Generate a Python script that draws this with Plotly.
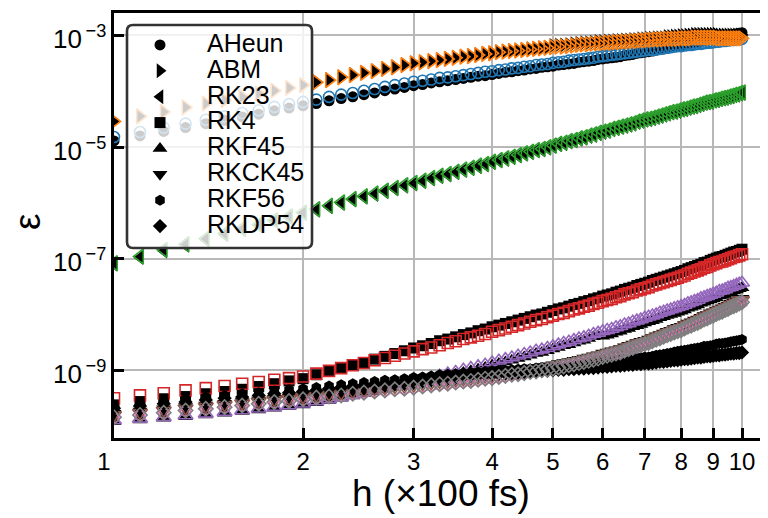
import plotly.graph_objects as go

# step sizes h (x100 fs)
H = [1.0, 1.1, 1.2, 1.3, 1.4, 1.5, 1.6, 1.7, 1.8, 1.9,
     2.0, 2.1, 2.2, 2.3, 2.4, 2.5, 2.6, 2.7, 2.8, 2.9,
     3.0, 3.1, 3.2, 3.3, 3.4, 3.5, 3.6, 3.7, 3.8, 3.9,
     4.0, 4.1, 4.2, 4.3, 4.4, 4.5, 4.6, 4.7, 4.8, 4.9,
     5.0, 5.1, 5.2, 5.3, 5.4, 5.5, 5.6, 5.7, 5.8, 5.9,
     6.0, 6.1, 6.2, 6.3, 6.4, 6.5, 6.6, 6.7, 6.8, 6.9,
     7.0, 7.1, 7.2, 7.3, 7.4, 7.5, 7.6, 7.7, 7.8, 7.9,
     8.0, 8.1, 8.2, 8.3, 8.4, 8.5, 8.6, 8.7, 8.8, 8.9,
     9.0, 9.1, 9.2, 9.3, 9.4, 9.5, 9.6, 9.7, 9.8, 9.9,
     10.0]

METHODS = ["AHeun", "ABM", "RK23", "RK4", "RKF45", "RKCK45", "RKF56", "RKDP54"]

# errors, stored as log10(epsilon)
# black filled markers
AHEUN_BLACK = [-4.89,-4.80,-4.72,-4.65,-4.58,-4.52,-4.46,-4.41,-4.35,-4.30,
 -4.26,-4.22,-4.17,-4.13,-4.10,-4.06,-4.03,-3.99,-3.96,-3.93,
 -3.90,-3.88,-3.85,-3.83,-3.81,-3.79,-3.77,-3.75,-3.73,-3.72,
 -3.70,-3.68,-3.66,-3.65,-3.63,-3.62,-3.60,-3.59,-3.57,-3.56,
 -3.55,-3.53,-3.52,-3.51,-3.50,-3.48,-3.47,-3.46,-3.45,-3.43,
 -3.42,-3.41,-3.40,-3.39,-3.38,-3.36,-3.35,-3.34,-3.32,-3.31,
 -3.30,-3.29,-3.28,-3.26,-3.25,-3.24,-3.23,-3.21,-3.20,-3.19,
 -3.18,-3.16,-3.15,-3.14,-3.13,-3.12,-3.10,-3.09,-3.08,-3.07,
 -3.06,-3.04,-3.03,-3.02,-3.01,-3.00,-2.99,-2.98,-2.97,-2.96,
 -2.95]
ABM_BLACK = [-4.53,-4.44,-4.36,-4.28,-4.21,-4.15,-4.09,-4.03,-3.98,-3.93,
 -3.88,-3.83,-3.79,-3.74,-3.70,-3.66,-3.63,-3.59,-3.56,-3.52,
 -3.49,-3.47,-3.45,-3.43,-3.41,-3.39,-3.37,-3.36,-3.34,-3.32,
 -3.31,-3.29,-3.28,-3.27,-3.26,-3.25,-3.24,-3.23,-3.22,-3.21,
 -3.18,-3.17,-3.17,-3.16,-3.15,-3.14,-3.13,-3.13,-3.12,-3.11,
 -3.11,-3.10,-3.10,-3.09,-3.09,-3.08,-3.08,-3.07,-3.07,-3.06,
 -3.06,-3.05,-3.05,-3.04,-3.04,-3.04,-3.02,-3.02,-3.01,-3.01,
 -3.00,-3.00,-2.99,-2.99,-2.98,-2.98,-2.98,-2.98,-2.98,-2.98,
 -2.98,-2.98,-2.99,-2.99,-2.99,-2.99,-2.99,-2.99,-2.99,-2.99,
 -2.99]
RK23_BLACK = [-7.10,-6.98,-6.86,-6.76,-6.66,-6.57,-6.48,-6.41,-6.33,-6.26,
 -6.19,-6.13,-6.07,-6.01,-5.95,-5.90,-5.85,-5.80,-5.75,-5.70,
 -5.66,-5.62,-5.57,-5.53,-5.50,-5.46,-5.42,-5.39,-5.35,-5.32,
 -5.28,-5.25,-5.22,-5.19,-5.16,-5.13,-5.10,-5.07,-5.05,-5.02,
 -4.99,-4.96,-4.94,-4.91,-4.89,-4.86,-4.84,-4.81,-4.79,-4.76,
 -4.74,-4.72,-4.69,-4.67,-4.65,-4.63,-4.61,-4.59,-4.56,-4.54,
 -4.52,-4.51,-4.49,-4.47,-4.45,-4.43,-4.41,-4.39,-4.38,-4.36,
 -4.34,-4.33,-4.31,-4.29,-4.28,-4.26,-4.24,-4.22,-4.21,-4.20,
 -4.18,-4.17,-4.15,-4.14,-4.13,-4.11,-4.10,-4.08,-4.07,-4.05,
 -4.04]
RK4_BLACK = [-9.62,-9.56,-9.51,-9.47,-9.42,-9.38,-9.34,-9.29,-9.24,-9.19,
 -9.15,-9.08,-9.02,-8.96,-8.91,-8.86,-8.80,-8.75,-8.70,-8.65,
 -8.60,-8.56,-8.52,-8.47,-8.44,-8.40,-8.36,-8.33,-8.29,-8.26,
 -8.22,-8.19,-8.16,-8.13,-8.10,-8.07,-8.04,-8.01,-7.99,-7.96,
 -7.93,-7.90,-7.88,-7.85,-7.82,-7.80,-7.77,-7.75,-7.72,-7.70,
 -7.67,-7.65,-7.63,-7.60,-7.58,-7.55,-7.53,-7.51,-7.48,-7.46,
 -7.44,-7.42,-7.39,-7.37,-7.35,-7.33,-7.31,-7.29,-7.27,-7.25,
 -7.23,-7.21,-7.18,-7.16,-7.14,-7.12,-7.10,-7.07,-7.06,-7.03,
 -7.01,-6.99,-6.97,-6.96,-6.94,-6.92,-6.90,-6.88,-6.87,-6.85,
 -6.83]
RKF45_BLACK = [-9.92,-9.89,-9.86,-9.83,-9.80,-9.77,-9.74,-9.71,-9.68,-9.65,
 -9.62,-9.58,-9.54,-9.50,-9.46,-9.42,-9.38,-9.34,-9.30,-9.27,
 -9.26,-9.22,-9.19,-9.15,-9.11,-9.08,-9.04,-9.01,-8.98,-8.95,
 -8.91,-8.88,-8.85,-8.82,-8.79,-8.76,-8.73,-8.70,-8.68,-8.65,
 -8.62,-8.59,-8.56,-8.54,-8.51,-8.48,-8.46,-8.43,-8.40,-8.38,
 -8.39,-8.37,-8.35,-8.32,-8.30,-8.27,-8.25,-8.22,-8.20,-8.18,
 -8.15,-8.13,-8.11,-8.09,-8.06,-8.04,-8.02,-8.00,-7.98,-7.96,
 -7.94,-7.92,-7.89,-7.87,-7.85,-7.83,-7.80,-7.78,-7.76,-7.74,
 -7.72,-7.70,-7.67,-7.66,-7.64,-7.61,-7.60,-7.58,-7.56,-7.54,
 -7.52]
RKCK45_BLACK = [-9.77,-9.73,-9.69,-9.65,-9.62,-9.59,-9.56,-9.53,-9.50,-9.48,
 -9.45,-9.42,-9.40,-9.38,-9.35,-9.33,-9.31,-9.29,-9.27,-9.26,
 -9.24,-9.22,-9.20,-9.18,-9.17,-9.15,-9.13,-9.12,-9.10,-9.08,
 -9.07,-9.05,-9.03,-9.01,-9.00,-8.98,-8.96,-8.95,-8.93,-8.92,
 -8.90,-8.88,-8.86,-8.84,-8.82,-8.80,-8.78,-8.76,-8.74,-8.72,
 -8.69,-8.67,-8.65,-8.63,-8.61,-8.58,-8.55,-8.53,-8.50,-8.48,
 -8.46,-8.44,-8.41,-8.38,-8.36,-8.33,-8.30,-8.28,-8.25,-8.23,
 -8.21,-8.18,-8.15,-8.13,-8.10,-8.08,-8.05,-8.02,-8.00,-7.97,
 -7.95,-7.92,-7.90,-7.88,-7.85,-7.83,-7.80,-7.78,-7.76,-7.73,
 -7.71]
RKF56_BLACK = [-9.62,-9.58,-9.54,-9.51,-9.48,-9.45,-9.42,-9.40,-9.37,-9.35,
 -9.33,-9.31,-9.28,-9.26,-9.24,-9.22,-9.20,-9.18,-9.17,-9.15,
 -9.13,-9.12,-9.10,-9.08,-9.07,-9.06,-9.05,-9.04,-9.03,-9.02,
 -9.01,-9.00,-9.00,-8.99,-8.98,-8.97,-8.97,-8.96,-8.95,-8.95,
 -8.94,-8.93,-8.93,-8.92,-8.91,-8.91,-8.90,-8.89,-8.88,-8.87,
 -8.86,-8.85,-8.84,-8.83,-8.82,-8.81,-8.80,-8.79,-8.78,-8.77,
 -8.76,-8.76,-8.75,-8.73,-8.72,-8.71,-8.70,-8.69,-8.67,-8.66,
 -8.65,-8.64,-8.63,-8.62,-8.61,-8.60,-8.59,-8.57,-8.57,-8.56,
 -8.55,-8.53,-8.52,-8.52,-8.51,-8.50,-8.49,-8.48,-8.47,-8.46,
 -8.45]
RKDP54_BLACK = [-9.68,-9.64,-9.60,-9.57,-9.53,-9.50,-9.48,-9.45,-9.42,-9.40,
 -9.38,-9.36,-9.33,-9.31,-9.29,-9.27,-9.25,-9.23,-9.22,-9.20,
 -9.18,-9.17,-9.15,-9.13,-9.12,-9.11,-9.10,-9.09,-9.08,-9.07,
 -9.07,-9.06,-9.05,-9.05,-9.04,-9.03,-9.03,-9.02,-9.01,-9.01,
 -9.00,-8.99,-8.99,-8.98,-8.98,-8.97,-8.97,-8.96,-8.96,-8.95,
 -8.94,-8.94,-8.93,-8.92,-8.92,-8.91,-8.90,-8.90,-8.89,-8.89,
 -8.88,-8.88,-8.87,-8.86,-8.85,-8.85,-8.84,-8.83,-8.82,-8.82,
 -8.81,-8.80,-8.80,-8.79,-8.78,-8.77,-8.77,-8.76,-8.75,-8.75,
 -8.74,-8.73,-8.73,-8.72,-8.72,-8.71,-8.70,-8.70,-8.69,-8.69,
 -8.68]

# coloured open markers
AHEUN_OPEN = [-4.82,-4.73,-4.65,-4.58,-4.51,-4.45,-4.39,-4.34,-4.28,-4.23,
 -4.19,-4.15,-4.10,-4.06,-4.03,-3.99,-3.96,-3.92,-3.89,-3.86,
 -3.83,-3.81,-3.79,-3.76,-3.75,-3.73,-3.71,-3.69,-3.67,-3.65,
 -3.64,-3.62,-3.61,-3.59,-3.58,-3.56,-3.55,-3.53,-3.52,-3.51,
 -3.49,-3.48,-3.47,-3.45,-3.44,-3.43,-3.42,-3.41,-3.40,-3.38,
 -3.37,-3.36,-3.35,-3.34,-3.33,-3.32,-3.31,-3.30,-3.29,-3.28,
 -3.27,-3.26,-3.26,-3.25,-3.24,-3.23,-3.22,-3.21,-3.20,-3.19,
 -3.19,-3.18,-3.17,-3.17,-3.16,-3.15,-3.15,-3.14,-3.13,-3.13,
 -3.12,-3.11,-3.11,-3.10,-3.10,-3.09,-3.08,-3.08,-3.07,-3.07,
 -3.06]
ABM_OPEN = [-4.54,-4.45,-4.37,-4.29,-4.22,-4.16,-4.10,-4.04,-3.99,-3.94,
 -3.89,-3.84,-3.80,-3.75,-3.71,-3.67,-3.64,-3.60,-3.57,-3.53,
 -3.50,-3.48,-3.46,-3.44,-3.42,-3.40,-3.38,-3.37,-3.35,-3.33,
 -3.32,-3.30,-3.29,-3.28,-3.27,-3.26,-3.25,-3.24,-3.23,-3.22,
 -3.21,-3.20,-3.20,-3.19,-3.18,-3.17,-3.16,-3.16,-3.15,-3.14,
 -3.14,-3.13,-3.13,-3.12,-3.12,-3.11,-3.11,-3.10,-3.10,-3.09,
 -3.09,-3.08,-3.08,-3.07,-3.07,-3.07,-3.06,-3.06,-3.06,-3.06,
 -3.05,-3.05,-3.05,-3.05,-3.04,-3.04,-3.04,-3.04,-3.04,-3.04,
 -3.04,-3.04,-3.05,-3.05,-3.05,-3.05,-3.05,-3.05,-3.05,-3.05,
 -3.05]
RK23_OPEN = [-7.08,-6.96,-6.84,-6.74,-6.64,-6.55,-6.46,-6.39,-6.31,-6.24,
 -6.17,-6.11,-6.05,-5.99,-5.93,-5.88,-5.83,-5.78,-5.73,-5.68,
 -5.64,-5.60,-5.55,-5.51,-5.48,-5.44,-5.40,-5.37,-5.33,-5.30,
 -5.26,-5.23,-5.20,-5.17,-5.14,-5.11,-5.08,-5.05,-5.03,-5.00,
 -4.97,-4.94,-4.92,-4.89,-4.87,-4.84,-4.82,-4.79,-4.77,-4.74,
 -4.72,-4.70,-4.67,-4.65,-4.63,-4.61,-4.59,-4.57,-4.54,-4.52,
 -4.50,-4.49,-4.47,-4.45,-4.43,-4.41,-4.39,-4.37,-4.36,-4.34,
 -4.32,-4.31,-4.29,-4.27,-4.26,-4.24,-4.22,-4.20,-4.19,-4.18,
 -4.16,-4.15,-4.13,-4.12,-4.11,-4.09,-4.08,-4.06,-4.05,-4.03,
 -4.02]
RK4_OPEN = [-9.50,-9.45,-9.41,-9.36,-9.32,-9.28,-9.24,-9.21,-9.17,-9.14,
 -9.11,-9.06,-9.01,-8.96,-8.91,-8.87,-8.82,-8.78,-8.74,-8.70,
 -8.66,-8.62,-8.59,-8.55,-8.51,-8.48,-8.44,-8.41,-8.38,-8.35,
 -8.31,-8.28,-8.25,-8.22,-8.19,-8.16,-8.13,-8.10,-8.08,-8.05,
 -8.02,-7.99,-7.97,-7.94,-7.91,-7.89,-7.86,-7.84,-7.81,-7.79,
 -7.76,-7.74,-7.72,-7.69,-7.67,-7.64,-7.62,-7.60,-7.57,-7.55,
 -7.53,-7.51,-7.48,-7.46,-7.44,-7.42,-7.40,-7.38,-7.36,-7.34,
 -7.32,-7.30,-7.27,-7.25,-7.23,-7.21,-7.19,-7.16,-7.15,-7.12,
 -7.10,-7.08,-7.06,-7.05,-7.03,-7.01,-6.99,-6.97,-6.96,-6.94,
 -6.92]
RKF45_OPEN = [-9.90,-9.87,-9.84,-9.81,-9.78,-9.75,-9.72,-9.69,-9.66,-9.63,
 -9.60,-9.56,-9.52,-9.48,-9.44,-9.40,-9.36,-9.32,-9.28,-9.25,
 -9.21,-9.17,-9.14,-9.10,-9.06,-9.03,-8.99,-8.96,-8.93,-8.90,
 -8.86,-8.83,-8.80,-8.77,-8.74,-8.71,-8.68,-8.65,-8.63,-8.60,
 -8.57,-8.54,-8.51,-8.49,-8.46,-8.43,-8.41,-8.38,-8.35,-8.33,
 -8.30,-8.28,-8.26,-8.23,-8.21,-8.18,-8.16,-8.13,-8.11,-8.09,
 -8.06,-8.04,-8.02,-8.00,-7.97,-7.95,-7.93,-7.91,-7.89,-7.87,
 -7.85,-7.83,-7.80,-7.78,-7.76,-7.74,-7.71,-7.69,-7.67,-7.65,
 -7.63,-7.61,-7.58,-7.57,-7.55,-7.52,-7.51,-7.49,-7.47,-7.45,
 -7.43]
RKCK45_OPEN = [-9.80,-9.76,-9.72,-9.68,-9.65,-9.62,-9.59,-9.56,-9.53,-9.51,
 -9.48,-9.45,-9.43,-9.41,-9.38,-9.36,-9.34,-9.32,-9.30,-9.29,
 -9.27,-9.25,-9.23,-9.21,-9.20,-9.18,-9.16,-9.15,-9.13,-9.11,
 -9.10,-9.08,-9.06,-9.04,-9.03,-9.01,-8.99,-8.98,-8.96,-8.95,
 -8.93,-8.91,-8.89,-8.87,-8.85,-8.83,-8.81,-8.79,-8.77,-8.75,
 -8.72,-8.70,-8.68,-8.66,-8.64,-8.61,-8.58,-8.56,-8.53,-8.51,
 -8.49,-8.47,-8.44,-8.41,-8.39,-8.36,-8.33,-8.31,-8.28,-8.26,
 -8.24,-8.21,-8.18,-8.16,-8.13,-8.11,-8.08,-8.05,-8.03,-8.00,
 -7.98,-7.95,-7.93,-7.91,-7.88,-7.86,-7.83,-7.81,-7.79,-7.76,
 -7.74]
RKF56_OPEN = [-9.85,-9.81,-9.77,-9.73,-9.70,-9.67,-9.64,-9.61,-9.58,-9.56,
 -9.53,-9.50,-9.48,-9.46,-9.43,-9.41,-9.39,-9.37,-9.35,-9.34,
 -9.32,-9.30,-9.28,-9.26,-9.25,-9.23,-9.21,-9.20,-9.18,-9.16,
 -9.15,-9.13,-9.11,-9.09,-9.08,-9.06,-9.04,-9.03,-9.01,-9.00,
 -8.98,-8.96,-8.94,-8.92,-8.90,-8.88,-8.86,-8.84,-8.82,-8.80,
 -8.77,-8.75,-8.73,-8.71,-8.69,-8.66,-8.63,-8.61,-8.58,-8.56,
 -8.54,-8.52,-8.49,-8.46,-8.44,-8.41,-8.38,-8.36,-8.33,-8.31,
 -8.29,-8.26,-8.23,-8.21,-8.18,-8.16,-8.13,-8.10,-8.08,-8.05,
 -8.03,-8.00,-7.98,-7.96,-7.93,-7.91,-7.88,-7.86,-7.84,-7.81,
 -7.79]
RKDP54_OPEN = [-9.84,-9.80,-9.76,-9.72,-9.69,-9.66,-9.63,-9.60,-9.57,-9.55,
 -9.52,-9.49,-9.47,-9.45,-9.42,-9.40,-9.38,-9.36,-9.34,-9.33,
 -9.31,-9.29,-9.27,-9.25,-9.24,-9.22,-9.20,-9.19,-9.17,-9.15,
 -9.14,-9.12,-9.10,-9.08,-9.07,-9.05,-9.03,-9.02,-9.00,-8.99,
 -8.97,-8.95,-8.93,-8.91,-8.89,-8.87,-8.85,-8.83,-8.81,-8.79,
 -8.76,-8.74,-8.72,-8.70,-8.68,-8.65,-8.62,-8.60,-8.57,-8.55,
 -8.53,-8.51,-8.48,-8.45,-8.43,-8.40,-8.37,-8.35,-8.32,-8.30,
 -8.28,-8.25,-8.22,-8.20,-8.17,-8.15,-8.12,-8.09,-8.07,-8.04,
 -8.02,-7.99,-7.97,-7.95,-7.92,-7.90,-7.87,-7.85,-7.83,-7.80,
 -7.78]

BLACK_SERIES = [AHEUN_BLACK, ABM_BLACK, RK23_BLACK, RK4_BLACK,
                RKF45_BLACK, RKCK45_BLACK, RKF56_BLACK, RKDP54_BLACK]
OPEN_SERIES = [AHEUN_OPEN, ABM_OPEN, RK23_OPEN, RK4_OPEN,
               RKF45_OPEN, RKCK45_OPEN, RKF56_OPEN, RKDP54_OPEN]

X_TICKS = [1, 2, 3, 4, 5, 6, 7, 8, 9, 10]
X_TICKTEXT = ["1\u00a0\u00a0\u00a0", "2", "3", "4", "5", "6", "7", "8", "9", "10"]
Y_TICK_EXP = [-9, -7, -5, -3]
Y_TICKTEXT = ["10<sup>\u2009\u2212%d</sup>" % (-k) for k in Y_TICK_EXP]

COLORS = ["#1f77b4", "#ff7f0e", "#2ca02c", "#d62728",
          "#9467bd", "#8c564b", "#e377c2", "#7f7f7f"]
SYMBOLS = ["circle", "triangle-right", "triangle-left", "square",
           "triangle-up", "triangle-down", "hexagon", "diamond"]
SIZES = [11, 13, 13, 11, 13, 13, 11, 11]

FONT = "Liberation Sans, Arial, sans-serif"
OFF = 8  # page body margin in the browser
W, HGT = 768, 518
L, R, T, B = 106, 0, 5, 88
PW, PH = W - L - R, HGT - T - B


def px_x(p):
    return (p - OFF - L) / PW


def px_y(p):
    return 1 - (p - OFF - T) / PH


fig = go.Figure()
for name, sym, col, sz, blk, opn in zip(METHODS, SYMBOLS, COLORS, SIZES,
                                        BLACK_SERIES, OPEN_SERIES):
    fig.add_trace(go.Scatter(
        x=H, y=[10 ** v for v in blk], mode="markers",
        name='<span style="font-size:25px">%s</span>' % name,
        marker=dict(symbol=sym, size=sz, color="black", line=dict(width=0)),
        showlegend=True))
    fig.add_trace(go.Scatter(
        x=H, y=[10 ** v for v in opn], mode="markers", showlegend=False,
        marker=dict(symbol=sym + "-open", size=sz, color=col,
                    line=dict(width=1.6, color=col))))

# rounded semi-transparent legend frame
x0, x1 = px_x(127), px_x(312)
y1, y0 = px_y(25), px_y(248)
rx, ry = 6 / PW, 6 / PH
path = (f"M {x0+rx},{y1} L {x1-rx},{y1} Q {x1},{y1} {x1},{y1-ry} "
        f"L {x1},{y0+ry} Q {x1},{y0} {x1-rx},{y0} L {x0+rx},{y0} "
        f"Q {x0},{y0} {x0},{y0+ry} L {x0},{y1-ry} Q {x0},{y1} {x0+rx},{y1} Z")
fig.add_shape(type="path", path=path, xref="paper", yref="paper",
              fillcolor="rgba(255,255,255,0.8)",
              line=dict(color="#333333", width=2.6), layer="above")

# y tick labels, placed on the log axis at each tick exponent
for k, txt in zip(Y_TICK_EXP, Y_TICKTEXT):
    fig.add_annotation(x=px_x(108), xref="paper", xanchor="right",
                       y=k, yref="y", yanchor="middle", yshift=-2,
                       text=txt, showarrow=False,
                       font=dict(size=26, family=FONT, color="black"))

# axis labels
fig.add_annotation(x=px_x(28), xref="paper", xanchor="center",
                   y=px_y(222), yref="paper", yanchor="middle",
                   text="ε", textangle=-90, showarrow=False,
                   font=dict(size=37, family=FONT, color="black"))
fig.add_annotation(x=px_x(441), xref="paper", xanchor="center",
                   y=px_y(493), yref="paper", yanchor="middle",
                   text="h (×100 fs)", showarrow=False,
                   font=dict(size=37, family=FONT, color="black"))

fig.update_layout(
    width=W, height=HGT,
    margin=dict(l=L, r=R, t=T, b=B, pad=0, autoexpand=False),
    paper_bgcolor="white", plot_bgcolor="white",
    font=dict(family=FONT, color="black", size=24),
    showlegend=True,
    legend=dict(x=px_x(113), y=px_y(27), xanchor="left", yanchor="top",
                bgcolor="rgba(0,0,0,0)", borderwidth=0,
                font=dict(family=FONT, size=17.6, color="black"),
                itemwidth=84, traceorder="normal"),
    xaxis=dict(type="log", range=[0, PW / 628.0], automargin=False,
               tickvals=X_TICKS, ticktext=X_TICKTEXT,
               ticks="inside", ticklen=10, tickwidth=3, tickcolor="black",
               showline=True, linewidth=3, linecolor="black", mirror=True,
               showgrid=True, gridcolor="#b8b8b8", gridwidth=1.8,
               zeroline=False, tickfont=dict(size=24, family=FONT),
               ticklabelstandoff=0),
    yaxis=dict(type="log", range=[-10.213, -2.597], automargin=False,
               tickvals=[10.0 ** k for k in Y_TICK_EXP], showticklabels=False,
               ticks="inside", ticklen=10, tickwidth=3, tickcolor="black",
               showline=True, linewidth=3, linecolor="black", mirror=False,
               showgrid=True, gridcolor="#b8b8b8", gridwidth=1.8,
               zeroline=False),
)

fig.write_html("out.html")
